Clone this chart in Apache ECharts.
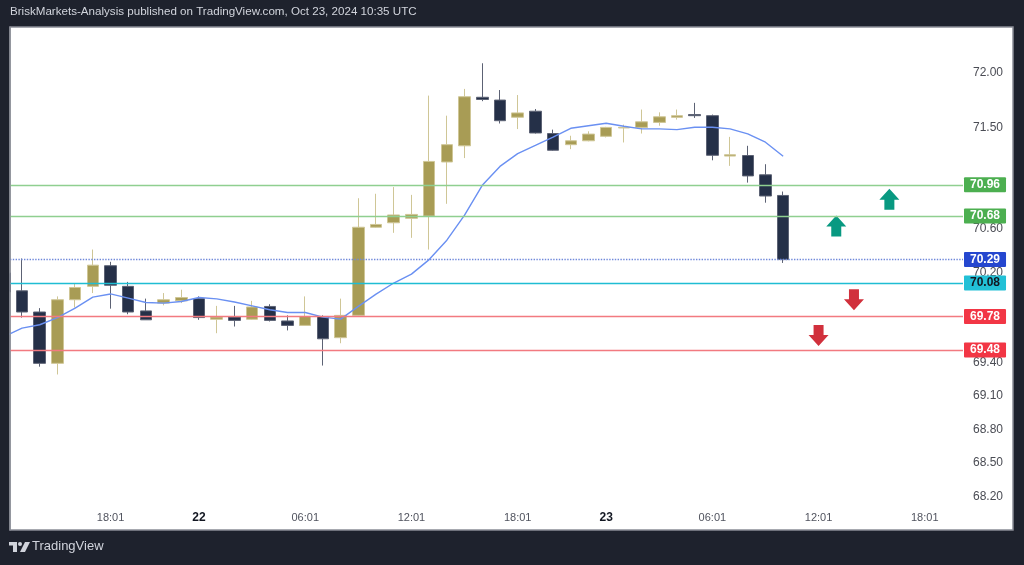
<!DOCTYPE html>
<html>
<head>
<meta charset="utf-8">
<style>
html,body{margin:0;padding:0;background:#1e222d;}
#c{width:1024px;height:565px;}
</style>
<script src="https://cdn.jsdelivr.net/npm/echarts@6/dist/echarts.min.js"></script>
</head>
<body>
<div id="c"></div>
<script>
// ---- data ----
const barTimes = [
  'Oct 21 12:01','Oct 21 13:01','Oct 21 14:01','Oct 21 15:01','Oct 21 16:01','Oct 21 17:01','Oct 21 18:01','Oct 21 19:01','Oct 21 20:01','Oct 21 22:01','Oct 21 23:01',
  'Oct 22 00:01','Oct 22 01:01','Oct 22 02:01','Oct 22 03:01','Oct 22 04:01','Oct 22 05:01','Oct 22 06:01','Oct 22 07:01','Oct 22 08:01','Oct 22 09:01','Oct 22 10:01',
  'Oct 22 11:01','Oct 22 12:01','Oct 22 13:01','Oct 22 14:01','Oct 22 15:01','Oct 22 16:01','Oct 22 17:01','Oct 22 18:01','Oct 22 19:01','Oct 22 20:01','Oct 22 22:01','Oct 22 23:01',
  'Oct 23 00:01','Oct 23 01:01','Oct 23 02:01','Oct 23 03:01','Oct 23 04:01','Oct 23 05:01','Oct 23 06:01','Oct 23 07:01','Oct 23 08:01','Oct 23 09:01','Oct 23 10:01'
];
const opens  = [70.17,70.01,69.82,69.36,69.93,70.05,70.235,70.05,69.83,69.90,69.92,69.94,69.755,69.775,69.755,69.87,69.74,69.70,69.78,69.59,69.79,70.58,70.62,70.66,70.68,71.165,71.31,71.745,71.72,71.566,71.62,71.42,71.32,71.355,71.395,71.47,71.475,71.52,71.565,71.59,71.58,71.218,71.223,71.05,70.865];
const closes = [70.00,69.82,69.36,69.93,70.04,70.24,70.06,69.82,69.75,69.93,69.95,69.77,69.775,69.745,69.865,69.745,69.70,69.78,69.58,69.79,70.58,70.605,70.69,70.695,71.17,71.32,71.75,71.725,71.535,71.605,71.425,71.27,71.355,71.415,71.475,71.475,71.525,71.57,71.58,71.58,71.225,71.23,71.04,70.86,70.29];
const lows   = [69.98,69.77,69.33,69.26,69.86,69.99,69.85,69.80,69.75,69.88,69.90,69.75,69.63,69.69,69.75,69.735,69.655,69.70,69.34,69.54,69.78,70.575,70.53,70.485,70.38,70.79,71.20,71.71,71.51,71.46,71.42,71.265,71.28,71.35,71.385,71.34,71.42,71.49,71.545,71.56,71.18,71.13,70.98,70.80,70.26];
const highs  = [70.21,70.30,69.855,69.96,70.08,70.38,70.27,70.09,69.94,69.99,70.02,69.96,69.875,69.875,69.92,69.89,69.79,69.96,69.79,69.94,70.84,70.88,70.94,70.87,71.76,71.58,71.82,72.05,71.81,71.765,71.64,71.455,71.40,71.44,71.48,71.50,71.635,71.61,71.635,71.695,71.59,71.39,71.31,71.145,70.90];
const maValues = [69.60,69.676,69.706,69.77,69.855,69.953,69.982,69.944,69.905,69.90,69.914,69.95,69.938,69.91,69.875,69.84,69.816,69.816,69.774,69.756,69.87,69.98,70.08,70.16,70.29,70.464,70.688,70.956,71.125,71.24,71.313,71.387,71.467,71.49,71.512,71.485,71.462,71.462,71.455,71.476,71.476,71.462,71.417,71.342,71.217];

const xTickIdx  = [6, 11, 17, 23, 29, 34, 40, 46, 52];
const xTickText = ['18:01','22','06:01','12:01','18:01','23','06:01','12:01','18:01'];
const yTickValues = [72.00, 71.50, 71.00, 70.60, 70.20, 69.80, 69.40, 69.10, 68.80, 68.50, 68.20];

const levelValues = [70.96, 70.68, 70.29, 70.08, 69.78, 69.48];
const levelKinds  = ['green','green','last','cyan','red','red'];

const arrowUpIdx = [47, 50];
const arrowUpVal = [70.59, 70.83];
const arrowDownIdx = [46, 48];
const arrowDownVal = [69.61, 69.93];

// ---- styles ----
const kindStyle = {
  green: {line:'#8fcf90', type:'solid', bg:'#4caf50', fg:'#ffffff'},
  last:  {line:'#6f88da', type:'dotted', bg:'#2547cf', fg:'#ffffff'},
  cyan:  {line:'#1fbdd3', type:'solid', bg:'#22c0d6', fg:'#131722'},
  red:   {line:'#f27a80', type:'solid', bg:'#f23645', fg:'#ffffff'}
};

const candleData = barTimes.map((t, i) => [i, opens[i], closes[i], lows[i], highs[i]]);
const maData = maValues.map((v, i) => [i, v]);

const markLineData = levelValues.map((v, i) => {
  const s = kindStyle[levelKinds[i]];
  return {
    yAxis: v,
    lineStyle: {color: s.line, type: s.type, width: levelKinds[i] === 'last' ? 1.4 : 1.3},
    label: {
      show: true, position: 'end', distance: 1,
      formatter: v.toFixed(2),
      color: s.fg, backgroundColor: s.bg,
      fontFamily: 'Liberation Sans, Arial, sans-serif', fontSize: 12, fontWeight: 'bold',
      lineHeight: 13, padding: [1, 6, 1, 6], borderRadius: 1
    }
  };
});

const upArrow = 'path://M10,0 L20,11 L15,11 L15,21 L5,21 L5,11 L0,11 Z';
const downArrow = 'path://M5,0 L15,0 L15,10 L20,10 L10,21 L0,10 L5,10 Z';

const chart = echarts.init(document.getElementById('c'), null, {renderer: 'canvas'});
chart.setOption({
  backgroundColor: '#1e222d',
  animation: false,
  graphic: [
    {type: 'rect', z: -10, shape: {x: 10, y: 27, width: 1003, height: 503},
     style: {fill: '#ffffff', stroke: '#8a8d96', lineWidth: 1.5}},
    {type: 'rect', z: 100, shape: {x: 0, y: 20, width: 9.2, height: 520},
     style: {fill: '#1e222d'}},
    {type: 'line', z: 101, shape: {x1: 9.9, y1: 26.5, x2: 9.9, y2: 530.5},
     style: {stroke: '#8a8d96', lineWidth: 1.5}},
    {type: 'text', left: 10, top: 6,
     style: {text: 'BriskMarkets-Analysis published on TradingView.com, Oct 23, 2024 10:35 UTC',
             fill: '#d1d4dc', fontSize: 11.6, fontFamily: 'Liberation Sans, Arial, sans-serif'}},
    {type: 'group', left: 9, top: 542, children: [
      {type: 'polygon', shape: {points: [[0,0],[8,0],[8,10],[4,10],[4,3.5],[0,3.5]]}, style: {fill: '#d1d4dc'}},
      {type: 'circle', shape: {cx: 11, cy: 2, r: 2}, style: {fill: '#d1d4dc'}},
      {type: 'polygon', shape: {points: [[16,0],[21,0],[16,10],[11,10]]}, style: {fill: '#d1d4dc'}}
    ]},
    {type: 'text', left: 32, top: 540,
     style: {text: 'TradingView', fill: '#d1d4dc', fontSize: 13, fontFamily: 'Liberation Sans, Arial, sans-serif'}}
  ],
  grid: {left: 10, right: 61, top: 27, height: 478, containLabel: false},
  xAxis: {
    type: 'value', min: 0.32, max: 54.16,
    splitLine: {show: false}, axisLine: {show: false}, axisTick: {show: false},
    axisLabel: {
      customValues: xTickIdx,
      margin: 7,
      fontSize: 11, color: '#50535e', fontFamily: 'Liberation Sans, Arial, sans-serif',
      formatter: function (v) {
        const k = xTickIdx.indexOf(Math.round(v));
        if (k < 0) return '';
        const t = xTickText[k];
        return t.indexOf(':') < 0 ? '{d|' + t + '}' : t;
      },
      rich: {d: {fontSize: 12, fontWeight: 'bold', color: '#131722', fontFamily: 'Liberation Sans, Arial, sans-serif'}}
    }
  },
  yAxis: {
    type: 'value', position: 'right', min: 68.09, max: 72.375, scale: true,
    splitLine: {show: false}, axisLine: {show: false}, axisTick: {show: false},
    axisLabel: {
      customValues: yTickValues, margin: 10, align: 'left',
      verticalAlign: 'top', lineHeight: 7,
      fontSize: 12, color: '#4a4c54', fontFamily: 'Liberation Sans, Arial, sans-serif',
      formatter: v => v.toFixed(2)
    }
  },
  series: [
    {
      type: 'candlestick',
      dimensions: ['idx', 'open', 'close', 'lowest', 'highest'],
      encode: {x: 'idx', y: ['open', 'close', 'lowest', 'highest']},
      data: candleData,
      barWidth: 12,
      clip: true,
      itemStyle: {color: '#a89c55', color0: '#253048', borderColor: '#cfc696', borderColor0: '#5c6274', borderWidth: 1}
    },
    {
      type: 'line', data: maData, showSymbol: false, symbol: 'none', clip: true, z: 3,
      lineStyle: {color: '#6a90f2', width: 1.4},
      markLine: {silent: true, symbol: 'none', data: markLineData, animation: false}
    },
    {
      type: 'scatter', z: 4,
      data: arrowUpIdx.map((x, i) => [x, arrowUpVal[i]]),
      symbol: upArrow, symbolSize: [20, 21], itemStyle: {color: '#089981', opacity: 1}
    },
    {
      type: 'scatter', z: 4,
      data: arrowDownIdx.map((x, i) => [x, arrowDownVal[i]]),
      symbol: downArrow, symbolSize: [20, 21], itemStyle: {color: '#d1303c', opacity: 1}
    }
  ]
});
</script>
</body>
</html>
